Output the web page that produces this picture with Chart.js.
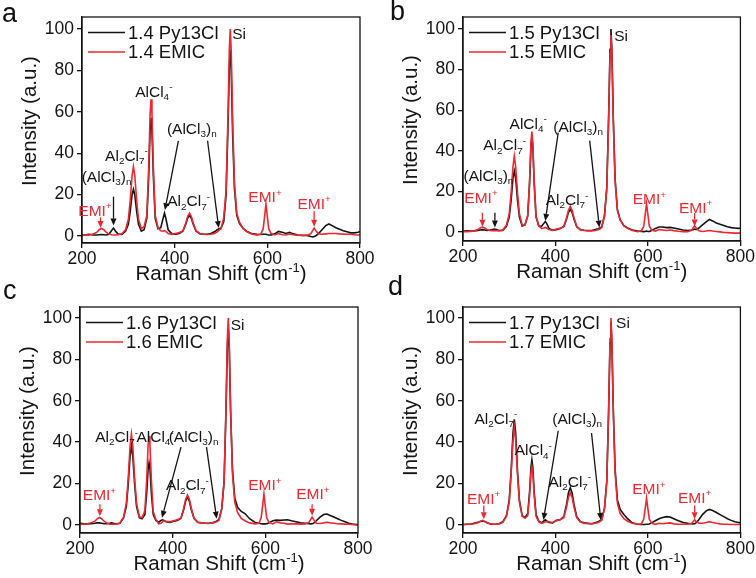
<!DOCTYPE html>
<html>
<head>
<meta charset="utf-8">
<script src="https://cdn.jsdelivr.net/npm/chart.js@4.4.1/dist/chart.umd.min.js"></script>
<style>
  body { margin: 0; background: #fff; width: 756px; height: 578px; position: relative; overflow: hidden; }
  canvas { position: absolute; }
  .tag { position: absolute; font: 27px "Liberation Sans", Arial, sans-serif; color: #111; line-height: 1; }
</style>
</head>
<body>
<canvas id="ca" width="378" height="289" style="left:0;top:0"></canvas>
<canvas id="cb" width="378" height="289" style="left:378px;top:0"></canvas>
<canvas id="cc" width="378" height="289" style="left:0;top:289px"></canvas>
<canvas id="cd" width="378" height="289" style="left:378px;top:289px"></canvas>
<div class="tag" style="left:2px;top:0px">a</div>
<div class="tag" style="left:390px;top:-2px">b</div>
<div class="tag" style="left:3px;top:277px">c</div>
<div class="tag" style="left:388px;top:273px">d</div>
<script>
// Raman shift (cm-1), shared by every spectrum
const shift = [
  200, 208, 216, 224, 232, 237, 242, 247, 252, 258,
  264, 268, 272, 278, 286, 294, 300, 304, 308, 311,
  314, 318, 322, 328, 334, 340, 344, 347, 349, 351,
  354, 358, 364, 370, 375, 378, 381, 386, 394, 402,
  410, 418, 424, 428, 432, 436, 440, 446, 454, 462,
  470, 478, 486, 492, 496, 500, 506, 511, 515, 518,
  520, 522, 525, 529, 534, 540, 548, 556, 566, 578,
  586, 591, 594, 597, 600, 603, 608, 616, 624, 632,
  640, 648, 656, 666, 676, 686, 694, 698, 701, 704,
  710, 718, 726, 733, 740, 748, 756, 764, 772, 780,
  788, 796, 800
];

// panel a
const py14 = [
  0.5, 0.6, 0.8, 0.5, 0.5, 0.6, 0.7, 0.6, 0.5, 0.8,
  2.6, 3.8, 2.4, 0.9, 0.7, 2.3, 5.7, 11.7, 19.8, 22.5,
  19.8, 11.7, 5.7, 2.3, 3, 8.7, 29, 51, 57, 51,
  29, 8.5, 3.5, 4, 8.5, 11, 8.5, 3, 1, 0.9,
  1.2, 2.4, 5.7, 8.5, 10, 8.5, 5.7, 2.4, 1.1, 0.8,
  0.8, 1.2, 2, 3, 3.5, 3.8, 7, 20, 52, 81,
  90, 81, 50, 23, 10, 6, 3.5, 2.2, 1.2, 0.8,
  0.7, 0.8, 0.8, 0.8, 0.6, 0.5, 0.5, 1, 2.2, 1.8,
  1.2, 1.8, 1, 0.5, 0.3, 0.2, -0.3, -0.5, -0.3, 0,
  1, 3, 5, 5.8, 5, 4, 3.2, 2.5, 2, 1.5,
  1.5, 1.8, 2.2
];
const emic14 = [
  0.3, 0.4, 0.5, 0.9, 1.8, 3.0, 3.6, 3.0, 1.8, 0.9,
  0.6, 0.5, 0.5, 0.6, 1.0, 3.0, 8, 17, 29, 33.5,
  29, 17, 8, 3.5, 4.5, 10, 33.5, 59, 66, 59,
  33.5, 10, 4, 2.5, 2.3, 2.6, 2.2, 1.2, 0.8, 1.2,
  1.6, 2.6, 6.3, 9.4, 11, 9.4, 6.3, 2.6, 1.2, 0.8,
  0.7, 0.8, 1.2, 2, 2.8, 3.5, 9, 22, 57, 90,
  100, 90, 57, 26, 11, 6.5, 3.5, 2, 1, 0.4,
  0.9, 3.4, 9.3, 15.5, 9.3, 3.4, 1.2, 0.5, 1.2, 0.6,
  0.5, 1.0, 0.6, 0.4, 0.3, 0.4, 1.1, 2.7, 3.8, 2.7,
  1.1, 0.8, 1, 1.2, 1.2, 1.2, 1, 0.9, 0.8, 0.8,
  0.6, 0.5, 0.6
];

// panel b
const py15 = [
  0.5, 0.6, 0.5, 0.5, 0.8, 1.0, 1.2, 1.0, 0.8, 1.0,
  1.3, 1.5, 1.3, 0.8, 0.8, 2.8, 7.4, 15.5, 26.3, 30,
  26.3, 15.5, 7.4, 3, 3.5, 8, 24, 42, 47, 42,
  24, 7.5, 3, 2.9, 4.3, 5.2, 4.3, 1.8, 0.9, 1.2,
  1.7, 2.6, 6.4, 9.6, 11.2, 9.6, 6.4, 2.6, 1.2, 0.9,
  0.8, 0.8, 1.2, 1.6, 2, 2.5, 8, 22, 57, 90,
  100, 90, 57, 26, 11, 6, 3.2, 2, 1, 0.5,
  0.3, 0.2, 0.3, 0.5, 0.3, 0.3, 0.8, 1.8, 2.5, 2.5,
  2.2, 2.3, 2.0, 1.5, 1.0, 0.8, 1.0, 1.2, 1.5, 1.2,
  2, 3.5, 5, 6.2, 5.5, 4.5, 3.8, 3.2, 2.6, 2.2,
  2, 1.8, 2
];
const emic15 = [
  0.2, 0.2, 0.3, 0.6, 1.2, 2.0, 2.4, 2.0, 1.2, 0.8,
  0.7, 0.8, 0.7, 0.6, 1.0, 3.4, 9, 19, 32, 37.5,
  32, 19, 9, 3.5, 3.5, 8, 25, 44, 49.5, 44,
  25, 7.5, 3, 1.8, 2, 2.3, 2, 1.2, 0.8, 1.5,
  1.8, 2.8, 7, 10.7, 12.6, 10.7, 7, 2.8, 1.1, 0.8,
  0.6, 0.6, 0.8, 1.2, 1.5, 2.2, 8, 21, 55, 88,
  97, 88, 55, 25, 10.5, 6, 3, 1.8, 0.8, 0.2,
  0.6, 3, 8.5, 14, 8.5, 3, 1, 0.5, 1.2, 1.0,
  0.8, 1.0, 0.7, 0.4, 0.2, 0.2, 0.8, 2.1, 3, 2.1,
  0.6, 0.3, 0.5, 0.8, 0.5, 0.3, 0.1, -0.2, -0.3, -0.4,
  -0.5, -0.5, -0.5
];

// panel c
const py16 = [
  0.8, 0.6, 0.5, 0.6, 0.8, 1.0, 1.0, 0.8, 0.6, 0.6,
  0.8, 1.0, 0.8, 0.6, 0.8, 3.4, 9, 19.5, 33, 38,
  33, 19.5, 9, 3.5, 3, 5, 15.5, 27, 30, 27,
  15.5, 5, 2, 1.3, 2.2, 2.5, 2.2, 1.5, 1.2, 1.8,
  2.2, 3.2, 7.6, 11.5, 13.5, 11.5, 7.6, 3.2, 1.3, 1,
  0.8, 0.8, 1.0, 1.5, 2.0, 2.6, 8, 21, 54, 86,
  95, 86, 55, 27, 13, 8.5, 6.5, 5.5, 3, 1.2,
  0.8, 0.6, 0.5, 0.5, 0.5, 0.6, 1.0, 2, 2.3, 2.2,
  2.4, 2.5, 2.0, 1.5, 1.0, 0.8, 0.6, 0.5, 0.6, 0.8,
  2, 3.8, 5, 5.3, 4.6, 3.8, 3, 2.2, 1.5, 0.8,
  0.4, 0.2, 0.2
];
const emic16 = [
  0.3, 0.4, 0.6, 1.0, 1.8, 2.9, 3.6, 2.9, 1.8, 0.9,
  0.4, 0.3, 0.3, 0.4, 0.8, 3.8, 10.5, 22.3, 38, 44,
  38, 22.3, 10.5, 4, 3.5, 7, 22, 38.5, 43, 38.5,
  22, 6.5, 2.5, 0.5, 0.8, 1.5, 2, 1.8, 1.5, 2,
  2.5, 3.3, 8.2, 12.4, 14.5, 12.4, 8.2, 3.3, 1.3, 1,
  0.8, 0.7, 1.0, 1.3, 1.6, 2.2, 8, 21, 56, 90,
  100, 90, 56, 25, 11, 6, 3.2, 2, 1, 0.5,
  0.8, 3.4, 9, 15, 9, 3.4, 1.2, 0.5, 1.5, 1.0,
  0.8, 0.4, 0.5, 0.5, 0.4, 0.5, 1.2, 2.7, 3.8, 2.7,
  0.8, 0.7, 1.0, 1.3, 1.0, 0.8, 0.6, 0.5, 0.4, 0.3,
  0.2, 0.0, 0.0
];

// panel d
const py17 = [
  0.2, 0.3, 0.3, 0.8, 1.3, 1.7, 1.9, 1.7, 1.1, 0.6,
  0.4, 0.3, 0.4, 0.6, 1.5, 4.5, 12, 25.5, 44, 51,
  44, 25.5, 12, 4.5, 3.5, 5.5, 16, 28, 31.5, 28,
  16, 5, 1.8, 1, 2, 2.5, 2, 1.2, 1.0, 2.2,
  2.5, 4, 10, 15.4, 18, 15.4, 10, 4, 1.5, 1,
  0.8, 0.6, 1.0, 1.5, 2, 2.5, 8, 21, 55, 88,
  98, 88, 56, 27, 12, 7.5, 5, 3, 1, 0.3,
  0.2, 0.2, 0.2, 0.3, 0.3, 0.5, 1.0, 2, 3, 3.6,
  4, 3.8, 3, 2, 1.2, 0.8, 0.6, 0.5, 0.6, 1,
  2.5, 5, 6.8, 7.5, 7, 6, 5, 4, 3, 2.2,
  1.5, 1.2, 1.0
];
const emic17 = [
  0.1, 0.3, 0.3, 0.6, 1.1, 1.7, 2.2, 1.7, 1.1, 0.6,
  0.4, 0.3, 0.3, 0.5, 1.2, 4.2, 11, 24, 40.5, 47,
  40.5, 24, 11, 4.2, 3.2, 4.5, 14, 25, 28, 25,
  14, 4.2, 1.5, 0.8, 1.2, 1.5, 1.6, 1.5, 1.2, 2,
  2.5, 3.5, 8.8, 13.3, 15.5, 13.3, 8.8, 3.5, 1.4, 0.8,
  0.6, 0.5, 0.8, 1.2, 1.6, 2.2, 8, 21, 56, 90,
  100, 90, 56, 25, 10.5, 5.5, 3, 1.8, 0.8, 0.3,
  0.6, 2.8, 7.8, 13, 7.8, 2.8, 0.9, 0.3, 0.8, 0.6,
  0.8, 1.0, 0.5, 0.3, 0.3, 0.3, 0.7, 1.7, 2.5, 1.7,
  0.8, 0.8, 1.2, 1.6, 1.2, 0.8, 0.5, 0.3, 0.3, 0.2,
  0.2, 0.2, 0.3
];

const xTicks = [200, 400, 600, 800];
const yTicks = [0, 20, 40, 60, 80, 100];

const BLACK = '#141414';
const RED = '#ee2830';
const FONT = '"Liberation Sans", Arial, sans-serif';

// peak labels: text, x, y (data units), colour
const notesA = [
  ['Si', 539, 98, BLACK], ['AlCl_4^-', 355, 70, BLACK], ['Al_2Cl_7^-', 296, 39, BLACK],
  ['(AlCl_3)_n', 253, 28.7, BLACK], ['(AlCl_3)_n', 437, 52, BLACK], ['Al_2Cl_7^-', 430, 17, BLACK],
  ['EMI^+', 228, 12.5, RED], ['EMI^+', 595, 19, RED], ['EMI^+', 701, 15.7, RED]
];
const arrowsA = [
  [268, 19, 268, 5, BLACK], [408, 46, 379, 12.5, BLACK], [471, 46, 495, 3.8, BLACK],
  [240, 9, 240, 3.8, RED], [701, 12, 701, 4.5, RED]
];
const notesB = [
  ['Si', 542, 97, BLACK], ['AlCl_4^-', 341, 53.6, BLACK], ['Al_2Cl_7^-', 290, 43, BLACK],
  ['(AlCl_3)_n', 255, 28, BLACK], ['(AlCl_3)_n', 449, 52, BLACK], ['Al_2Cl_7^-', 425, 16, BLACK],
  ['EMI^+', 239, 17.2, RED], ['EMI^+', 603, 16.4, RED], ['EMI^+', 703, 12.3, RED]
];
const arrowsB = [
  [269, 9.5, 269, 2.2, BLACK], [406, 49, 378, 5.5, BLACK], [474, 45, 495, 2.2, BLACK],
  [242, 9.5, 242, 2.6, RED], [701, 9.3, 701, 2.8, RED]
];
const notesC = [
  ['Si', 540, 96.8, BLACK], ['Al_2Cl_7^-', 279, 42.7, BLACK], ['AlCl_4^-', 362, 42.7, BLACK],
  ['(AlCl_3)_n', 445, 42.7, BLACK], ['Al_2Cl_7^-', 432, 19.4, BLACK],
  ['EMI^+', 242, 14.5, RED], ['EMI^+', 599, 19.4, RED], ['EMI^+', 702.5, 15, RED]
];
const arrowsC = [
  [418, 37.6, 377, 3.5, BLACK], [473, 37.6, 495, 3, BLACK],
  [243, 10, 243, 4.2, RED], [701, 10, 701, 4.4, RED]
];
const notesD = [
  ['Si', 546, 97.6, BLACK], ['Al_2Cl_7^-', 271, 51.6, BLACK], ['AlCl_4^-', 352, 36.3, BLACK],
  ['(AlCl_3)_n', 447, 51.6, BLACK], ['Al_2Cl_7^-', 431, 21, BLACK],
  ['EMI^+', 244.5, 12.9, RED], ['EMI^+', 602, 17.4, RED], ['EMI^+', 701, 13.4, RED]
];
const arrowsD = [
  [406, 45.5, 374, 2.4, BLACK], [478, 44.4, 498, 2.4, BLACK],
  [245, 9.4, 245, 2.7, RED], [701, 9.4, 701, 2.8, RED]
];

// write text with _x subscripts and ^x superscripts
function richText(ctx, str, x, y, size, color) {
  const parts = [];
  for (let i = 0; i < str.length; i++) {
    const c = str[i];
    if ((c === '_' || c === '^') && i + 1 < str.length) { parts.push({ t: str[i + 1], k: c }); i++; }
    else parts.push({ t: c, k: '' });
  }
  const small = size * 0.64;
  let w = 0;
  parts.forEach(p => {
    ctx.font = (p.k ? small : size) + 'px ' + FONT;
    p.w = ctx.measureText(p.t).width;
    w += p.w;
  });
  let cx = x - w / 2;
  ctx.fillStyle = color;
  ctx.textAlign = 'left';
  ctx.textBaseline = 'alphabetic';
  parts.forEach(p => {
    ctx.font = (p.k ? small : size) + 'px ' + FONT;
    const dy = p.k === '_' ? size * 0.22 : p.k === '^' ? -size * 0.42 : 0;
    ctx.fillText(p.t, cx, y + dy);
    cx += p.w;
  });
}

function arrow(ctx, x1, y1, x2, y2, color) {
  const a = Math.atan2(y2 - y1, x2 - x1);
  const hl = 7, hw = 3;
  ctx.strokeStyle = color;
  ctx.fillStyle = color;
  ctx.lineWidth = 1.3;
  ctx.beginPath();
  ctx.moveTo(x1, y1);
  ctx.lineTo(x2 - Math.cos(a) * hl, y2 - Math.sin(a) * hl);
  ctx.stroke();
  ctx.beginPath();
  ctx.moveTo(x2, y2);
  ctx.lineTo(x2 - Math.cos(a) * hl - Math.sin(a) * hw, y2 - Math.sin(a) * hl + Math.cos(a) * hw);
  ctx.lineTo(x2 - Math.cos(a) * hl + Math.sin(a) * hw, y2 - Math.sin(a) * hl - Math.cos(a) * hw);
  ctx.closePath();
  ctx.fill();
}

function decoFor(p) {
  return {
    id: 'deco',
    afterDraw(chart) {
      const ctx = chart.ctx;
      const ca = chart.chartArea;
      const xs = chart.scales.x, ys = chart.scales.y;
      ctx.save();
      // frame
      ctx.strokeStyle = BLACK;
      ctx.lineWidth = 1.3;
      ctx.strokeRect(ca.left, ca.top, ca.right - ca.left, ca.bottom - ca.top);
      // legend
      chart.data.datasets.forEach((ds, i) => {
        const ly = ca.top + 15.5 + i * 19.5;
        ctx.strokeStyle = ds.borderColor;
        ctx.lineWidth = 1.6;
        ctx.beginPath();
        ctx.moveTo(ca.left + 6, ly);
        ctx.lineTo(ca.left + 43, ly);
        ctx.stroke();
        ctx.fillStyle = BLACK;
        ctx.font = '18.5px ' + FONT;
        ctx.textAlign = 'left';
        ctx.textBaseline = 'middle';
        ctx.fillText(ds.label, ca.left + 46, ly + 1);
      });
      // peak labels and arrows
      p.arrows.forEach(a => arrow(ctx, xs.getPixelForValue(a[0]), ys.getPixelForValue(a[1]),
        xs.getPixelForValue(a[2]), ys.getPixelForValue(a[3]), a[4]));
      p.notes.forEach(n => richText(ctx, n[0], xs.getPixelForValue(n[1]), ys.getPixelForValue(n[2]) + 5.5, 15.5, n[3]));
      // axis titles
      ctx.fillStyle = BLACK;
      const xt = 'Raman Shift (cm';
      ctx.font = '20.5px ' + FONT;
      const w1 = ctx.measureText(xt).width;
      ctx.font = '13px ' + FONT;
      const w2 = ctx.measureText('-1').width;
      ctx.font = '20.5px ' + FONT;
      const w3 = ctx.measureText(')').width;
      const tx = (ca.left + ca.right) / 2 - (w1 + w2 + w3) / 2;
      const ty = ca.bottom + 37;
      ctx.textAlign = 'left';
      ctx.textBaseline = 'alphabetic';
      ctx.fillText(xt, tx, ty);
      ctx.font = '13px ' + FONT;
      ctx.fillText('-1', tx + w1, ty - 8.5);
      ctx.font = '20.5px ' + FONT;
      ctx.fillText(')', tx + w1 + w2, ty);
      ctx.save();
      ctx.translate(ca.left - 52, (ca.top + ca.bottom) / 2 - 9);
      ctx.rotate(-Math.PI / 2);
      ctx.textAlign = 'center';
      ctx.textBaseline = 'middle';
      ctx.fillText('Intensity (a.u.)', 0, 0);
      ctx.restore();
      ctx.restore();
    }
  };
}

function makeChart(p) {
  const W = 378, H = 289;
  const axisLine = { display: true, color: BLACK, width: 1.3 };
  const grid = { display: true, drawOnChartArea: false, drawTicks: true, tickLength: 5, color: BLACK, lineWidth: 1.3 };
  new Chart(document.getElementById(p.id).getContext('2d'), {
    type: 'line',
    data: {
      datasets: [
        { label: p.names[0], data: shift.map((x, i) => ({ x: x, y: p.py[i] })), borderColor: BLACK, borderWidth: 1.6, pointRadius: 0, fill: false, order: 1 },
        { label: p.names[1], data: shift.map((x, i) => ({ x: x, y: p.emic[i] })), borderColor: RED, borderWidth: 1.6, pointRadius: 0, fill: false, order: 0 }
      ]
    },
    options: {
      responsive: false,
      animation: false,
      events: [],
      layout: { padding: { left: 0, top: p.area.t, right: W - p.area.r, bottom: 0 } },
      plugins: { legend: { display: false }, tooltip: { enabled: false } },
      scales: {
        x: {
          type: 'linear', min: 200, max: 800,
          afterBuildTicks: s => { s.ticks = xTicks.map(v => ({ value: v })); },
          afterFit: s => { s.height = H - p.area.b; },
          grid: grid, border: axisLine,
          ticks: { color: BLACK, font: { size: 17.5, family: FONT }, padding: 1, maxRotation: 0 }
        },
        y: {
          type: 'linear', min: p.yr[0], max: p.yr[1],
          afterBuildTicks: s => { s.ticks = yTicks.map(v => ({ value: v })); },
          afterFit: s => { s.width = p.area.l; },
          grid: grid, border: axisLine,
          ticks: { color: BLACK, font: { size: 17.5, family: FONT }, padding: 3 }
        }
      }
    },
    plugins: [decoFor(p)]
  });
}

makeChart({ id: 'ca', py: py14, emic: emic14, names: ['1.4 Py13Cl', '1.4 EMIC'],
  area: { l: 82, r: 360, t: 17, b: 243 }, yr: [-3.4, 105.8], notes: notesA, arrows: arrowsA });
makeChart({ id: 'cb', py: py15, emic: emic15, names: ['1.5 Py13Cl', '1.5 EMIC'],
  area: { l: 85, r: 365, t: 17, b: 241 }, yr: [-4.4, 105.9], notes: notesB, arrows: arrowsB });
makeChart({ id: 'cc', py: py16, emic: emic16, names: ['1.6 Py13Cl', '1.6 EMIC'],
  area: { l: 80, r: 358, t: 18, b: 244 }, yr: [-3.9, 105.3], notes: notesC, arrows: arrowsC });
makeChart({ id: 'cd', py: py17, emic: emic17, names: ['1.7 Py13Cl', '1.7 EMIC'],
  area: { l: 85, r: 365, t: 18, b: 244 }, yr: [-3.9, 105.3], notes: notesD, arrows: arrowsD });
</script>
</body>
</html>
